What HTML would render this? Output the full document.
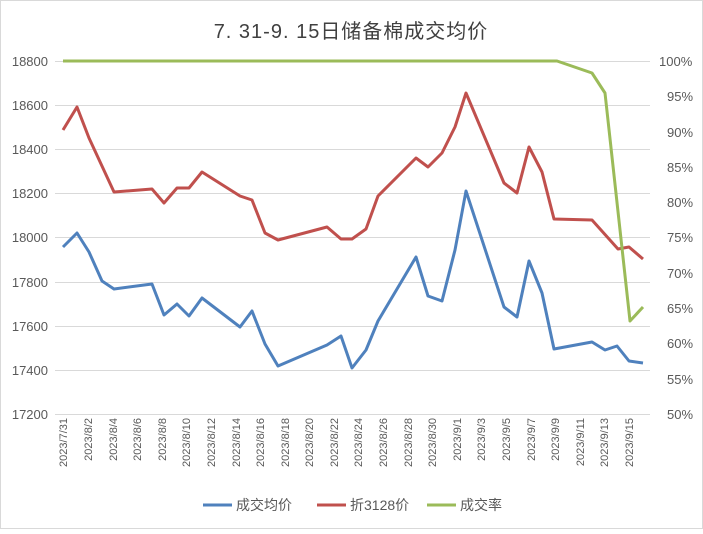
<!DOCTYPE html>
<html><head><meta charset="utf-8"><style>
body{margin:0;background:#fff;}
svg text{font-family:"Liberation Sans","Noto Sans CJK SC",sans-serif;fill:#595959;}
</style></head><body>
<svg width="703" height="529" viewBox="0 0 703 529" xmlns="http://www.w3.org/2000/svg">
<rect x="0.5" y="0.5" width="702" height="528" fill="#fff" stroke="#d9d9d9"/>
<text x="351" y="38" text-anchor="middle" font-size="20" letter-spacing="1" style="fill:#404040">7. 31-9. 15日储备棉成交均价</text>
<g stroke="#d9d9d9" stroke-width="1">
<line x1="55" x2="650" y1="61.5" y2="61.5"/><line x1="55" x2="650" y1="105.5" y2="105.5"/>
<line x1="55" x2="650" y1="149.5" y2="149.5"/><line x1="55" x2="650" y1="193.5" y2="193.5"/>
<line x1="55" x2="650" y1="237.5" y2="237.5"/><line x1="55" x2="650" y1="282.5" y2="282.5"/>
<line x1="55" x2="650" y1="326.5" y2="326.5"/><line x1="55" x2="650" y1="370.5" y2="370.5"/>
<line x1="55" x2="650" y1="414.5" y2="414.5"/>
</g>
<g font-size="13" text-anchor="end">
<text x="48" y="66">18800</text><text x="48" y="110">18600</text><text x="48" y="154">18400</text>
<text x="48" y="198">18200</text><text x="48" y="242">18000</text><text x="48" y="287">17800</text>
<text x="48" y="331">17600</text><text x="48" y="375">17400</text><text x="48" y="419">17200</text>
</g>
<g font-size="13">
<text x="659" y="66">100%</text><text x="667" y="101">95%</text><text x="667" y="137">90%</text>
<text x="667" y="172">85%</text><text x="667" y="207">80%</text><text x="667" y="242">75%</text>
<text x="667" y="278">70%</text><text x="667" y="313">65%</text><text x="667" y="348">60%</text>
<text x="667" y="384">55%</text><text x="667" y="419">50%</text>
</g>
<g font-size="11" text-anchor="end">
<text transform="translate(67,418) rotate(-90)">2023/7/31</text>
<text transform="translate(92,418) rotate(-90)">2023/8/2</text>
<text transform="translate(117,418) rotate(-90)">2023/8/4</text>
<text transform="translate(141,418) rotate(-90)">2023/8/6</text>
<text transform="translate(166,418) rotate(-90)">2023/8/8</text>
<text transform="translate(190,418) rotate(-90)">2023/8/10</text>
<text transform="translate(215,418) rotate(-90)">2023/8/12</text>
<text transform="translate(240,418) rotate(-90)">2023/8/14</text>
<text transform="translate(264,418) rotate(-90)">2023/8/16</text>
<text transform="translate(289,418) rotate(-90)">2023/8/18</text>
<text transform="translate(313,418) rotate(-90)">2023/8/20</text>
<text transform="translate(338,418) rotate(-90)">2023/8/22</text>
<text transform="translate(362,418) rotate(-90)">2023/8/24</text>
<text transform="translate(387,418) rotate(-90)">2023/8/26</text>
<text transform="translate(412,418) rotate(-90)">2023/8/28</text>
<text transform="translate(436,418) rotate(-90)">2023/8/30</text>
<text transform="translate(461,418) rotate(-90)">2023/9/1</text>
<text transform="translate(485,418) rotate(-90)">2023/9/3</text>
<text transform="translate(510,418) rotate(-90)">2023/9/5</text>
<text transform="translate(535,418) rotate(-90)">2023/9/7</text>
<text transform="translate(559,418) rotate(-90)">2023/9/9</text>
<text transform="translate(584,418) rotate(-90)">2023/9/11</text>
<text transform="translate(608,418) rotate(-90)">2023/9/13</text>
<text transform="translate(633,418) rotate(-90)">2023/9/15</text>
</g>
<g fill="none" stroke-width="3" stroke-linejoin="round">
<polyline stroke="#c0504d" points="63,130 77,107 89,138 114,192 152,189 164,203 177,188 189,188 202,172 240,196 252,200 265,233 278,240 327,227 341,239 352,239 366,229 378,196 416,158 428,167 442,153 455,127 466,93 504,183 517,193 529,147 542,172 554,219 592,220 618,249 629,247 643,259"/>
<polyline stroke="#4f81bd" points="63,247 77,233 89,252 102,281 114,289 152,284 164,315 177,304 189,316 202,298 240,327 252,311 265,344 278,366 327,345 341,336 352,368 366,350 378,321 416,257 428,296 442,301 455,250 466,191 504,307 517,317 529,261 542,293 554,349 592,342 605,350 617,346 629,361 643,363"/>
<polyline stroke="#9bbb59" points="63,61 557,61 592,73 605,93 630,321 643,307"/>
</g>
<g font-size="14">
<line x1="203" x2="232" y1="505" y2="505" stroke="#4f81bd" stroke-width="3"/>
<text x="236" y="510">成交均价</text>
<line x1="317" x2="346" y1="505" y2="505" stroke="#c0504d" stroke-width="3"/>
<text x="350" y="510">折3128价</text>
<line x1="427" x2="456" y1="505" y2="505" stroke="#9bbb59" stroke-width="3"/>
<text x="460" y="510">成交率</text>
</g>
</svg>
</body></html>
